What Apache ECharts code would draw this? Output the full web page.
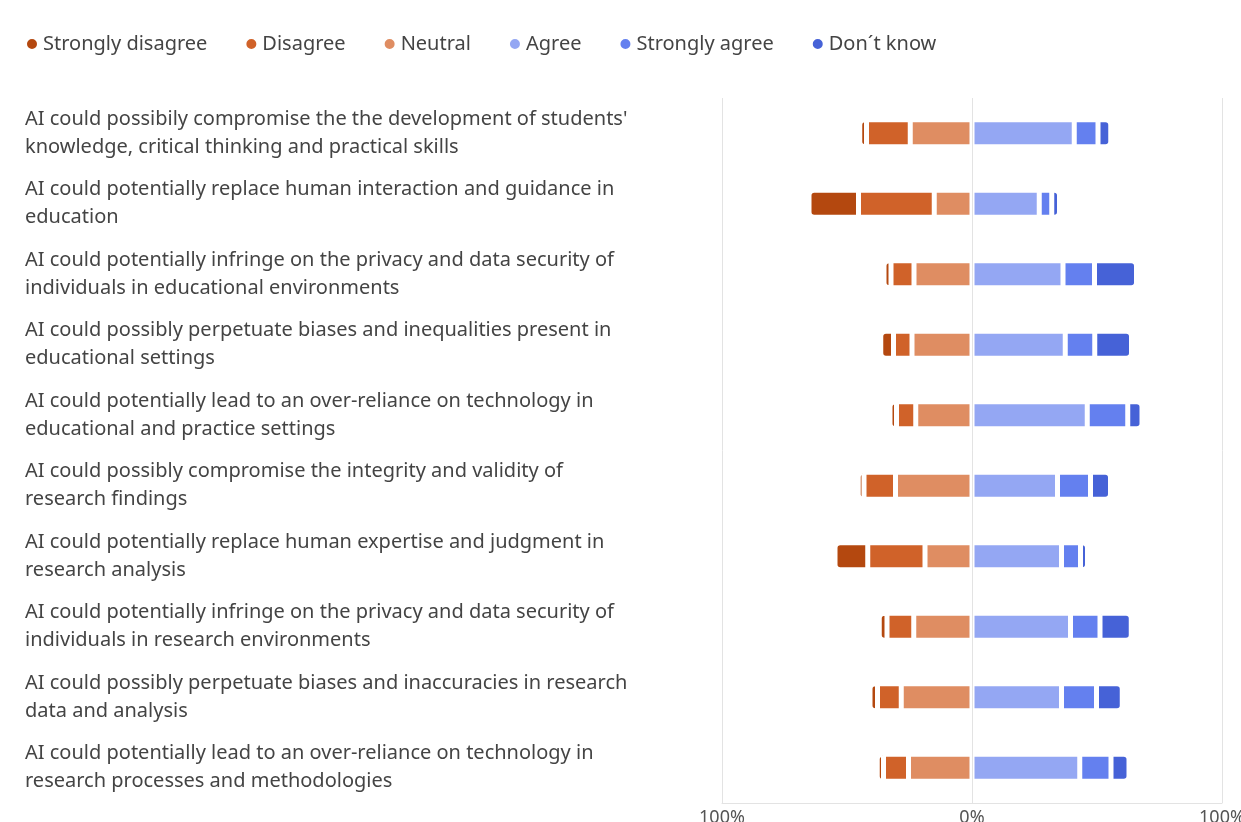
<!DOCTYPE html>
<html>
<head>
<meta charset="utf-8">
<script src="https://cdn.jsdelivr.net/npm/echarts@6/dist/echarts.min.js"></script>
<style>
html,body{margin:0;padding:0;background:#fff;}
#chart{width:1241px;height:822px;}
</style>
</head>
<body>
<div id="chart"></div>
<script>
const categories = [
  "AI could possibily compromise the the development of students'\nknowledge, critical thinking and practical skills",
  "AI could potentially replace human interaction and guidance in\neducation",
  "AI could potentially infringe on the privacy and data security of\nindividuals in educational environments",
  "AI could possibly perpetuate biases and inequalities present in\neducational settings",
  "AI could potentially lead to an over-reliance on technology in\neducational and practice settings",
  "AI could possibly compromise the integrity and validity of\nresearch findings",
  "AI could potentially replace human expertise and judgment in\nresearch analysis",
  "AI could potentially infringe on the privacy and data security of\nindividuals in research environments",
  "AI could possibly perpetuate biases and inaccuracies in research\ndata and analysis",
  "AI could potentially lead to an over-reliance on technology in\nresearch processes and methodologies"
];
const seriesNames = ["Strongly disagree", "Disagree", "Neutral", "Agree", "Strongly agree", "Don\u00b4t know"];
const stronglyDisagree = [2.7, 19.8, 2.8, 5.1, 2.6, 2.3, 13.1, 3.1, 3.0, 2.5];
const disagree         = [17.5, 30.3, 9.2, 7.4, 7.7, 12.6, 22.9, 10.7, 9.5, 10.0];
const neutral          = [24.7, 15.1, 23.2, 24.0, 22.5, 30.6, 18.8, 23.3, 28.3, 25.4];
const agree            = [40.9, 26.9, 36.4, 37.3, 46.1, 34.2, 35.8, 39.4, 35.8, 43.1];
const stronglyAgree    = [9.5, 5.0, 12.6, 11.8, 16.2, 13.2, 7.6, 11.8, 14.0, 12.5];
const dontKnow         = [5.1, 3.1, 16.8, 14.7, 5.7, 8.0, 2.8, 12.5, 10.3, 7.2];
const xTicks = [-100, 0, 100];

const colors = {
  "Strongly disagree": "#b4480f",
  "Disagree": "#d06229",
  "Neutral": "#df8d62",
  "Agree": "#94a7f3",
  "Strongly agree": "#6480ef",
  "Don\u00b4t know": "#4662d7"
};

const neg = arr => arr.map(v => -v);
function mk(name, data, radius, extra) {
  const s = {
    name: name,
    type: 'bar',
    stack: 'total',
    barWidth: 27,
    data: data,
    itemStyle: {
      color: colors[name],
      borderColor: '#ffffff',
      borderWidth: 2.5,
      borderRadius: radius
    },
    emphasis: { disabled: true }
  };
  return Object.assign(s, extra || {});
}

const chart = echarts.init(document.getElementById('chart'));
chart.setOption({
  animation: false,
  textStyle: { fontFamily: 'Noto Sans' },
  legend: {
    data: seriesNames,
    left: 20,
    top: 29,
    icon: 'circle',
    itemWidth: 12,
    itemHeight: 12,
    itemGap: 37,
    textStyle: { fontSize: 20, color: '#444', fontFamily: 'Noto Sans' }
  },
  grid: { left: 722, right: 19, top: 98, bottom: 19, containLabel: false, outerBoundsMode: 'none' },
  xAxis: {
    type: 'value',
    min: xTicks[0],
    max: xTicks[xTicks.length - 1],
    interval: 100,
    axisLine: { show: true, lineStyle: { color: '#e3e3e3' } },
    axisTick: { show: false },
    splitLine: { show: true, lineStyle: { color: '#e3e3e3', width: 1 } },
    axisLabel: {
      fontSize: 18, color: '#555', margin: 6,
      formatter: v => Math.abs(v) + '%'
    }
  },
  yAxis: {
    type: 'category',
    data: categories,
    inverse: true,
    axisLine: { show: false },
    axisTick: { show: false },
    splitLine: { show: false },
    axisLabel: {
      align: 'left',
      margin: 697,
      fontSize: 20,
      lineHeight: 28,
      color: '#444',
      fontFamily: 'Noto Sans'
    }
  },
  series: [
    mk("Neutral", neg(neutral), 0),
    mk("Disagree", neg(disagree), 0),
    mk("Strongly disagree", neg(stronglyDisagree), [4, 0, 0, 4]),
    mk("Agree", agree, 0, {
      markLine: {
        silent: true, symbol: 'none', label: { show: false },
        lineStyle: { color: '#e3e3e3', type: 'solid', width: 1 },
        data: [{ xAxis: 0 }], z: 10
      }
    }),
    mk("Strongly agree", stronglyAgree, 0),
    mk("Don\u00b4t know", dontKnow, [0, 4, 4, 0])
  ]
});
</script>
</body>
</html>
